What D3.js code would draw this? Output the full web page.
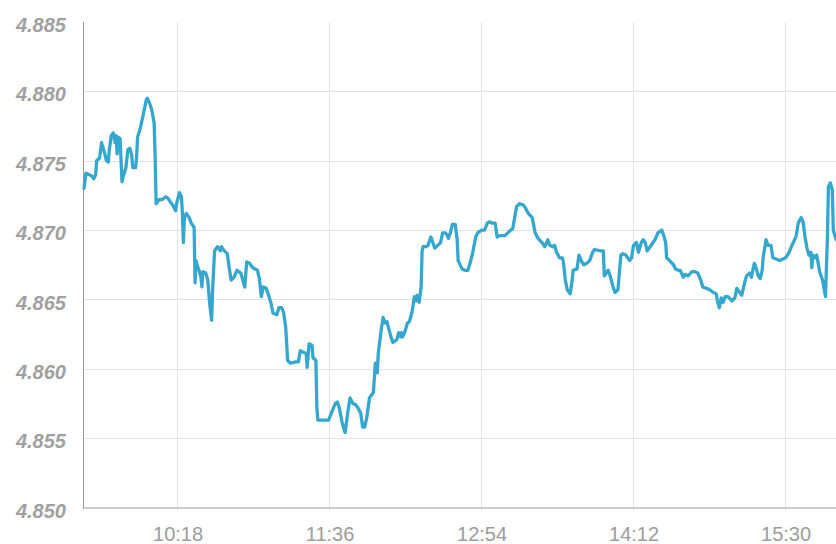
<!DOCTYPE html>
<html><head><meta charset="utf-8">
<script src="https://cdn.jsdelivr.net/npm/d3@7/dist/d3.min.js"></script>
<style>html,body{margin:0;padding:0;background:#fff;overflow:hidden}</style>
</head><body>
<svg id="chart" width="836" height="544"></svg>
<script>
// ---- data ----
const times = ["09:30:00","09:31:00","09:32:30","09:34:00","09:35:00","09:36:00","09:36:30","09:38:00","09:39:00","09:40:30",
"09:41:30","09:42:30","09:43:00","09:44:00","09:45:00","09:46:00","09:46:30","09:47:00","09:47:30","09:48:30",
"09:49:30","09:50:00","09:51:30","09:52:30","09:53:30","09:54:30","09:55:00","09:56:30","09:57:00","09:57:30",
"09:59:00","10:00:30","10:02:00","10:02:30","10:03:30","10:04:30","10:05:00","10:06:00","10:06:30","10:07:00",
"10:08:30","10:10:00","10:12:00","10:13:00","10:14:30","10:15:30","10:17:00","10:17:30","10:19:00","10:20:00",
"10:20:30","10:21:00","10:21:30","10:22:30","10:24:00","10:25:00","10:26:30","10:27:00","10:27:30","10:28:00",
"10:29:00","10:30:00","10:30:30","10:31:00","10:32:30","10:33:30","10:34:30","10:35:30","10:36:00","10:37:00",
"10:38:30","10:40:00","10:40:30","10:42:00","10:43:30","10:44:30","10:45:30","10:47:00","10:48:30","10:50:30",
"10:52:30","10:53:30","10:55:00","10:56:30","10:59:00","11:00:00","11:01:00","11:02:00","11:03:30","11:04:30",
"11:06:00","11:07:00","11:09:00","11:10:00","11:11:30","11:12:30","11:13:30","11:14:30","11:16:00","11:18:30",
"11:20:00","11:21:00","11:22:30","11:24:00","11:24:30","11:25:30","11:27:00","11:27:30","11:29:00","11:29:30",
"11:30:00","11:32:00","11:34:30","11:35:30","11:37:30","11:39:00","11:40:00","11:41:00","11:42:30","11:44:00",
"11:45:30","11:46:30","11:48:00","11:49:30","11:50:30","11:52:00","11:53:00","11:54:00","11:55:00","11:56:30",
"11:58:00","11:58:30","11:59:30","12:00:30","12:01:00","12:02:30","12:03:30","12:04:30","12:05:30","12:06:00",
"12:07:30","12:08:30","12:10:30","12:11:30","12:12:30","12:13:00","12:13:30","12:14:30","12:16:00","12:17:00",
"12:18:30","12:19:30","12:20:30","12:21:00","12:22:00","12:23:00","12:23:30","12:24:00","12:25:30","12:26:30",
"12:28:00","12:29:00","12:30:00","12:31:30","12:33:00","12:34:00","12:35:30","12:36:30","12:37:00","12:38:00",
"12:39:00","12:40:30","12:41:30","12:42:00","12:44:00","12:45:30","12:47:00","12:48:30","12:49:30","12:51:00",
"12:52:00","12:54:00","12:55:30","12:57:00","12:58:00","12:59:30","13:01:00","13:02:00","13:03:30","13:06:00",
"13:07:30","13:09:00","13:10:00","13:11:00","13:12:00","13:13:30","13:15:30","13:16:30","13:18:00","13:20:00",
"13:21:30","13:23:00","13:25:00","13:26:30","13:28:00","13:29:00","13:30:30","13:31:30","13:32:30","13:34:00",
"13:35:30","13:36:00","13:37:00","13:38:00","13:39:30","13:40:30","13:41:00","13:43:00","13:44:00","13:45:30",
"13:46:30","13:48:00","13:49:30","13:51:00","13:52:00","13:55:00","13:56:30","13:57:00","13:58:00","13:59:00",
"14:00:00","14:01:30","14:02:30","14:04:00","14:05:30","14:06:30","14:08:00","14:09:00","14:10:00","14:11:00",
"14:12:00","14:13:30","14:14:30","14:16:00","14:17:00","14:18:00","14:19:00","14:20:30","14:22:00","14:23:00",
"14:24:30","14:26:30","14:27:30","14:28:30","14:29:00","14:30:30","14:32:30","14:33:30","14:35:00","14:36:00",
"14:37:30","14:38:30","14:40:00","14:42:00","14:43:30","14:45:00","14:46:30","14:47:30","14:49:30","14:51:00",
"14:53:00","14:54:30","14:55:00","14:56:00","14:57:00","14:58:00","14:59:00","15:00:30","15:02:30","15:04:00",
"15:05:00","15:06:30","15:07:30","15:09:00","15:10:00","15:11:30","15:12:30","15:13:30","15:14:00","15:15:00",
"15:16:00","15:17:00","15:18:00","15:18:30","15:20:00","15:21:00","15:22:30","15:23:30","15:25:30","15:27:00",
"15:28:30","15:30:00","15:31:30","15:33:00","15:34:00","15:35:30","15:36:30","15:38:00","15:39:00","15:40:00",
"15:41:00","15:42:00","15:43:00","15:43:30","15:44:00","15:45:00","15:46:00","15:46:30","15:47:30","15:48:30",
"15:49:00","15:50:30","15:51:30","15:52:00","15:53:00","15:54:00","15:54:30","15:55:30","15:56:00"];

const values = [4.8730,4.8741,4.8740,4.8739,4.8737,4.8740,4.8750,4.8752,4.8763,4.8756,
4.8750,4.8749,4.8758,4.8768,4.8770,4.8763,4.8768,4.8755,4.8767,4.8766,
4.8735,4.8738,4.8745,4.8758,4.8759,4.8754,4.8745,4.8745,4.8753,4.8767,
4.8774,4.8784,4.8794,4.8795,4.8792,4.8788,4.8785,4.8777,4.8753,4.8719,
4.8722,4.8722,4.8724,4.8723,4.8720,4.8718,4.8714,4.8719,4.8727,4.8724,
4.8712,4.8691,4.8709,4.8712,4.8709,4.8705,4.8702,4.8662,4.8678,4.8675,
4.8671,4.8666,4.8659,4.8670,4.8669,4.8664,4.8647,4.8635,4.8657,4.8685,
4.8688,4.8685,4.8688,4.8685,4.8683,4.8673,4.8664,4.8666,4.8671,4.8669,
4.8659,4.8677,4.8676,4.8673,4.8671,4.8665,4.8652,4.8659,4.8658,4.8654,
4.8647,4.8640,4.8639,4.8644,4.8644,4.8640,4.8630,4.8606,4.8604,4.8605,
4.8605,4.8613,4.8612,4.8611,4.8601,4.8618,4.8617,4.8608,4.8606,4.8572,
4.8563,4.8563,4.8563,4.8563,4.8570,4.8575,4.8576,4.8572,4.8561,4.8554,
4.8570,4.8579,4.8575,4.8574,4.8572,4.8568,4.8558,4.8558,4.8564,4.8579,
4.8582,4.8583,4.8604,4.8597,4.8611,4.8628,4.8637,4.8633,4.8634,4.8631,
4.8623,4.8619,4.8621,4.8626,4.8623,4.8626,4.8623,4.8626,4.8633,4.8634,
4.8642,4.8652,4.8649,4.8653,4.8648,4.8659,4.8685,4.8688,4.8688,4.8689,
4.8695,4.8691,4.8687,4.8689,4.8691,4.8698,4.8698,4.8696,4.8694,4.8698,
4.8704,4.8704,4.8693,4.8678,4.8672,4.8671,4.8671,4.8678,4.8684,4.8695,
4.8698,4.8700,4.8700,4.8705,4.8706,4.8705,4.8705,4.8695,4.8696,4.8696,
4.8698,4.8700,4.8701,4.8709,4.8717,4.8719,4.8718,4.8716,4.8712,4.8709,
4.8698,4.8694,4.8691,4.8688,4.8693,4.8689,4.8688,4.8689,4.8684,4.8680,
4.8680,4.8677,4.8664,4.8657,4.8654,4.8664,4.8671,4.8672,4.8682,4.8677,
4.8675,4.8676,4.8678,4.8684,4.8686,4.8685,4.8685,4.8667,4.8669,4.8671,
4.8667,4.8659,4.8655,4.8657,4.8682,4.8683,4.8682,4.8680,4.8678,4.8680,
4.8689,4.8691,4.8684,4.8691,4.8693,4.8691,4.8685,4.8688,4.8691,4.8693,
4.8698,4.8700,4.8696,4.8691,4.8680,4.8678,4.8675,4.8672,4.8671,4.8671,
4.8666,4.8668,4.8667,4.8670,4.8670,4.8669,4.8664,4.8659,4.8658,4.8657,
4.8655,4.8654,4.8649,4.8644,4.8651,4.8648,4.8652,4.8652,4.8649,4.8651,
4.8658,4.8655,4.8653,4.8662,4.8667,4.8669,4.8666,4.8673,4.8676,4.8672,
4.8667,4.8665,4.8671,4.8680,4.8693,4.8689,4.8689,4.8680,4.8679,4.8678,
4.8679,4.8680,4.8683,4.8688,4.8691,4.8696,4.8705,4.8709,4.8706,4.8695,
4.8687,4.8682,4.8684,4.8673,4.8682,4.8680,4.8682,4.8678,4.8670,4.8666,
4.8664,4.8652,4.8695,4.8731,4.8734,4.8729,4.8700,4.8695,4.8693];

const xTickLabels = ["10:18","11:36","12:54","14:12","15:30"];
const yTickValues = [4.850,4.855,4.860,4.865,4.870,4.875,4.880,4.885];
const sessionStart = "09:30:00";
const sessionEnd = "16:00:00";

// ---- chart ----
const W = 836, H = 544;
const mLeft = 84, mTop = 22, mBottom = 507.5, mRight = 844;
const parseT = d3.timeParse("%H:%M:%S");
const parseHM = d3.timeParse("%H:%M");
const data = times.map((t, i) => ({t: parseT(t), v: values[i]}));

const x = d3.scaleTime().domain([parseT(sessionStart), parseT(sessionEnd)]).range([mLeft, mRight]);
const y = d3.scaleLinear().domain([4.850, 4.885]).range([mBottom, mTop]);

const svg = d3.select("#chart");

// grid
svg.append("g").selectAll("line")
  .data(yTickValues.filter(v => v > 4.8501 && v < 4.8849))
  .join("line")
  .attr("x1", mLeft).attr("x2", W)
  .attr("y1", d => Math.round(y(d)) + 0.5).attr("y2", d => Math.round(y(d)) + 0.5)
  .attr("stroke", "#e3e3e3").attr("stroke-width", 1);

svg.append("g").selectAll("line")
  .data(xTickLabels.map(parseHM))
  .join("line")
  .attr("x1", d => Math.floor(x(d)) + 0.5).attr("x2", d => Math.floor(x(d)) + 0.5)
  .attr("y1", mTop).attr("y2", mBottom)
  .attr("stroke", "#e3e3e3").attr("stroke-width", 1);

// axes lines
svg.append("line").attr("x1", mLeft - 0.5).attr("x2", mLeft - 0.5).attr("y1", mTop).attr("y2", mBottom + 1)
  .attr("stroke", "#9a9a9a").attr("stroke-width", 1);
svg.append("line").attr("x1", mLeft - 1).attr("x2", W).attr("y1", mBottom + 0.5).attr("y2", mBottom + 0.5)
  .attr("stroke", "#9a9a9a").attr("stroke-width", 1);

// y labels
const yAxis = d3.axisLeft(y).tickValues(yTickValues).tickFormat(d3.format(".3f")).tickSize(0).tickPadding(18);
const gy = svg.append("g").attr("transform", `translate(${mLeft},0)`).call(yAxis);
gy.select(".domain").remove();
gy.selectAll("text")
  .attr("dy", "0.48em")
  .attr("fill", "#a0a0a0")
  .style("font-family", "'Liberation Sans', Arial, sans-serif")
  .style("font-size", "20px")
  .style("font-weight", "bold")
  .style("font-style", "italic");

// x labels
const xAxis = d3.axisBottom(x).tickValues(xTickLabels.map(parseHM)).tickFormat(d3.timeFormat("%H:%M")).tickSize(0).tickPadding(19);
const gx = svg.append("g").attr("transform", `translate(0,${mBottom})`).call(xAxis);
gx.select(".domain").remove();
gx.selectAll("text")
  .attr("fill", "#9c9c9c")
  .style("font-family", "'Liberation Sans', Arial, sans-serif")
  .style("font-size", "20px");

// line
const line = d3.line().x(d => x(d.t)).y(d => y(d.v)).curve(d3.curveLinear);
svg.append("path").datum(data)
  .attr("d", line)
  .attr("fill", "none")
  .attr("stroke", "#35a7cf")
  .attr("stroke-width", 3.3)
  .attr("stroke-linejoin", "round")
  .attr("stroke-linecap", "round");
</script>
</body></html>
